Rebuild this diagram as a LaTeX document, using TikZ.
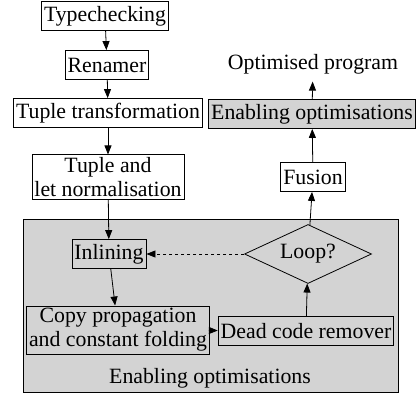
\documentclass[tikz,border=0pt]{standalone}
\usepackage{fontspec}
\setmainfont{Liberation Serif}
\usetikzlibrary{arrows.meta,shapes.geometric}
\definecolor{clustergrey}{RGB}{211,211,211}

\begin{document}
\begin{tikzpicture}[x=1pt, y=-1pt, ->, >={Triangle[length=9pt,width=7pt]}, line width=0.8pt,
  box/.style={draw, inner sep=2.5pt, minimum height=29pt, align=center},
  greybox/.style={box, fill=clustergrey}]
%
\fontsize{21.8}{24}\selectfont
\useasboundingbox (0,0) rectangle (417,395);
%
\draw[-, fill=clustergrey] (23,219) rectangle (398,392);
\node (C) at (210,378) {Enabling optimisations};
%
\node (S1) [box] at (105,16) {Typechecking};
\node (S2) [box] at (107,65) {Renamer};
\node (S3) [box] at (108,113) {Tuple transformation};
\node (S4) [box] at (108,177) {Tuple and\\let normalisation};
\node (S5) [greybox] at (109,254) {Inlining};
\node (S6) [greybox] at (118,330) {Copy propagation\\and constant folding};
\node (S7) [greybox] at (306,331) {Dead code remover};
\node (S8) [draw, diamond, inner sep=0pt, aspect=2.15, minimum width=127pt, minimum height=59pt] at (308,254) {Loop?};
\node (S9) [box] at (313,177) {Fusion};
\node (S10) [greybox] at (312,114) {Enabling optimisations};
\node (S11) at (313,64) {Optimised program};
%
\path (S1) edge (S2);
\path (S2) edge (S3);
\path (S3) edge (S4);
\path (S4) edge (S5);
\path (S5) edge (S6);
\path (S6) edge (S7);
\path (S7) edge (S8);
\path (S8) edge (S9);
\path (S9) edge (S10);
\path (S10) edge (S11);
\path (S8) edge[dashed] (S5);
\end{tikzpicture}
\end{document}
